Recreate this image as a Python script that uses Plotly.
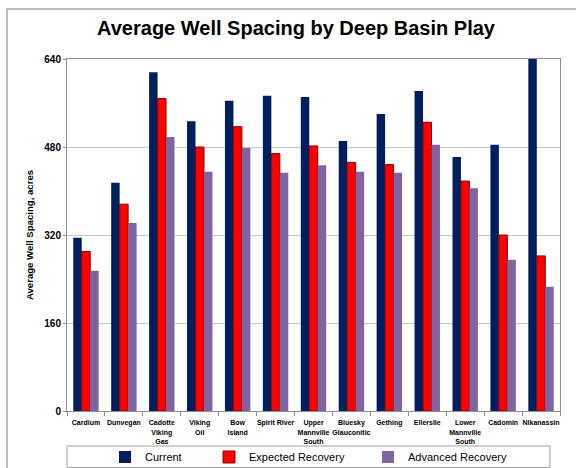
import plotly.graph_objects as go

# Deep Basin plays and their average well spacing (acres)
plays = [
    "Cardium", "Dunvegan", "Cadotte<br>Viking<br>Gas", "Viking<br>Oil", "Bow<br>Island",
    "Spirit River", "Upper<br>Mannville<br>South", "Bluesky<br>Glauconitic", "Gething",
    "Ellerslie", "Lower<br>Mannville<br>South", "Cadomin", "Nikanassin",
]
current = [315, 415, 616, 527, 564, 573, 571, 491, 540, 582, 462, 484, 650]
expected_recovery = [290, 376, 568, 480, 517, 468, 482, 452, 448, 525, 418, 320, 282]
advanced_recovery = [255, 342, 498, 435, 478, 433, 447, 435, 433, 484, 405, 275, 226]
y_ticks = [0, 160, 320, 480, 640]

FONT = "Liberation Sans, Arial, sans-serif"

fig = go.Figure()
fig.add_trace(go.Bar(name="Current", x=plays, y=current, legend="legend",
                     marker=dict(color="#001F5F", line=dict(width=0))))
fig.add_trace(go.Bar(name="Expected Recovery", x=plays, y=expected_recovery, legend="legend2",
                     marker=dict(color="#FF0000", line=dict(color="#8B0000", width=1))))
fig.add_trace(go.Bar(name="Advanced Recovery", x=plays, y=advanced_recovery, legend="legend3",
                     marker=dict(color="#8064A2", line=dict(width=0))))

# plot-area geometry in pixels, used to place the frame and legend box
L, R, T, B = 67, 16, 59, 57
W, H = 576, 468
pw, ph = W - L - R, H - T - B


def px_x(x):
    return (x - L) / pw


def px_y(y):
    return (H - B - y) / ph


shapes = [
    # outer chart frame
    dict(type="rect", xref="paper", yref="paper",
         x0=px_x(7), x1=px_x(600), y0=px_y(490), y1=px_y(9),
         line=dict(color="#A8A8A8", width=1.5), fillcolor="rgba(0,0,0,0)", layer="below"),
    # legend box
    dict(type="rect", xref="paper", yref="paper",
         x0=px_x(67), x1=px_x(550), y0=px_y(467.5), y1=px_y(446),
         line=dict(color="#A0A0A0", width=1), fillcolor="rgba(0,0,0,0)"),
]


def legend_at(x_px):
    # container coordinates keep the legends from pushing the plot margins
    return dict(orientation="h", xref="container", x=x_px / W, xanchor="left",
                yref="container", y=1 - 457 / H, yanchor="middle",
                font=dict(size=11, family=FONT), bgcolor="rgba(0,0,0,0)",
                borderwidth=0)


fig.update_layout(
    width=W, height=H,
    margin=dict(l=L, r=R, t=T, b=B, autoexpand=False),
    paper_bgcolor="white", plot_bgcolor="white",
    font=dict(family=FONT, color="black"),
    title=dict(text="<b>Average Well Spacing by Deep Basin Play</b>",
               x=296 / W, xref="container", xanchor="center",
               y=1 - 28 / H, yref="container", yanchor="middle",
               font=dict(size=20, family=FONT, color="black")),
    barmode="group", bargap=0.33, bargroupgap=0,
    showlegend=True,
    legend=legend_at(105),
    legend2=legend_at(209),
    legend3=legend_at(368),
    shapes=shapes,
)

fig.update_xaxes(
    showline=True, linecolor="#909090", linewidth=1, mirror=True,
    ticks="outside", tickson="boundaries", ticklen=4, tickcolor="#909090",
    tickfont=dict(size=7, family=FONT), showgrid=False, tickangle=0,
    tickprefix="<b>", ticksuffix="</b>", automargin=False, ticklabelstandoff=5,
)
fig.update_yaxes(
    range=[0, 640], tickvals=y_ticks, ticktext=[f"<b>{v}</b>" for v in y_ticks],
    showline=True, linecolor="#909090", linewidth=1, mirror=True,
    ticks="outside", ticklen=3, tickcolor="#909090",
    showgrid=True, gridcolor="#C8C8C8", gridwidth=1, zeroline=False,
    tickfont=dict(size=10, family=FONT), automargin=False,
    title=dict(text="<b>Average Well Spacing, acres</b>", font=dict(size=9.6, family=FONT),
               standoff=8),
)

fig.write_html("out.html")
